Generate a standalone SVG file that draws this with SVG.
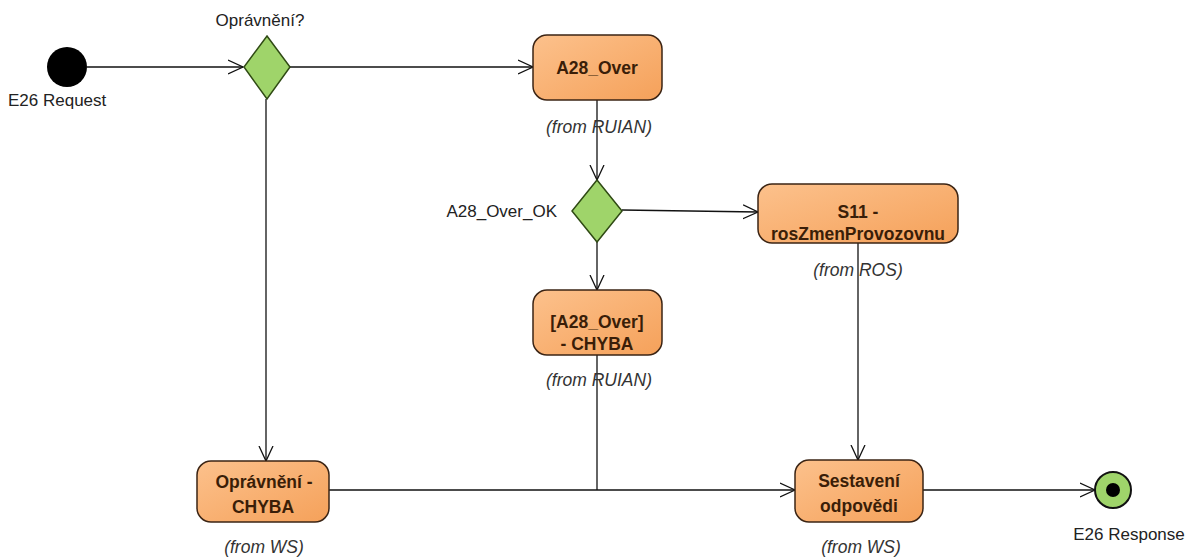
<svg xmlns="http://www.w3.org/2000/svg" width="1197" height="558" viewBox="0 0 1197 558">
<style>
.act{fill:url(#og);stroke:#3b2414;stroke-width:1.5}
.dec{fill:#9fd46a;stroke:#2f4a14;stroke-width:1.5}
.lbl{font-family:"Liberation Sans",Arial,sans-serif;font-size:17px;fill:#222}
.name{font-family:"Liberation Sans",Arial,sans-serif;font-size:17.5px;font-weight:bold;fill:#3a1e08;text-anchor:middle}
.from{font-family:"Liberation Sans",Arial,sans-serif;font-size:17.5px;font-style:italic;fill:#333;text-anchor:middle}
.edge{fill:none;stroke:#111;stroke-width:1.3}
</style>
<defs>
<linearGradient id="og" x1="0" y1="0" x2="1" y2="1">
<stop offset="0" stop-color="#fcc18c"/>
<stop offset="1" stop-color="#f5a15a"/>
</linearGradient>
<marker id="arr" viewBox="0 0 16 16" refX="15" refY="8" markerWidth="16" markerHeight="16" markerUnits="userSpaceOnUse" orient="auto">
<path d="M0,1 L15,8 L0,15" fill="none" stroke="#111" stroke-width="1.3"/>
</marker>
</defs>
<g id="connectors">
<path class="edge" d="M87,67 L243,67" marker-end="url(#arr)"/>
<path class="edge" d="M290,67 L533,67" marker-end="url(#arr)"/>
<path class="edge" d="M266,99 L266,461" marker-end="url(#arr)"/>
<path class="edge" d="M597,100 L597,180" marker-end="url(#arr)"/>
<path class="edge" d="M622,210 L758,212" marker-end="url(#arr)"/>
<path class="edge" d="M597,242 L597,290" marker-end="url(#arr)"/>
<path class="edge" d="M597,355 L597,490"/>
<path class="edge" d="M329,490 L795,490" marker-end="url(#arr)"/>
<path class="edge" d="M858,243 L858,460" marker-end="url(#arr)"/>
<path class="edge" d="M923,490 L1095,490" marker-end="url(#arr)"/>
</g>
<g id="start">
<circle cx="67" cy="67" r="20" fill="#000"/>
<text class="lbl" x="8" y="106">E26 Request</text>
</g>
<g id="decision1">
<polygon class="dec" points="267,36 290,67 267,99 244,67"/>
<text class="lbl" x="260" y="26" text-anchor="middle">Oprávnění?</text>
</g>
<g id="a28over">
<rect class="act" x="533" y="35" width="129" height="65" rx="14"/>
<text class="name" x="597" y="74">A28_Over</text>
<text class="from" x="599" y="133">(from RUIAN)</text>
</g>
<g id="decision2">
<polygon class="dec" points="597,180 622,211 597,242 572,211"/>
<text class="lbl" x="557" y="217" text-anchor="end">A28_Over_OK</text>
</g>
<g id="s11">
<rect class="act" x="758" y="184" width="200" height="59" rx="14"/>
<text class="name" x="858" y="218">S11 -</text>
<text class="name" x="858" y="240">rosZmenProvozovnu</text>
<text class="from" x="858" y="276">(from ROS)</text>
</g>
<g id="a28chyba">
<rect class="act" x="533" y="290" width="129" height="65" rx="14"/>
<text class="name" x="597" y="328">[A28_Over]</text>
<text class="name" x="597" y="350">- CHYBA</text>
<text class="from" x="599" y="386">(from RUIAN)</text>
</g>
<g id="opravneniChyba">
<rect class="act" x="197" y="461" width="132" height="61" rx="14"/>
<text class="name" x="264" y="488">Oprávnění -</text>
<text class="name" x="263" y="513">CHYBA</text>
<text class="from" x="264" y="553">(from WS)</text>
</g>
<g id="sestaveni">
<rect class="act" x="795" y="460" width="128" height="62" rx="14"/>
<text class="name" x="859" y="487">Sestavení</text>
<text class="name" x="859" y="512">odpovědi</text>
<text class="from" x="861" y="553">(from WS)</text>
</g>
<g id="end">
<circle cx="1113" cy="490" r="18" fill="#9fd46a" stroke="#111" stroke-width="2"/>
<circle cx="1113" cy="490" r="7" fill="#000"/>
<text class="lbl" x="1129" y="540" text-anchor="middle">E26 Response</text>
</g>
</svg>
